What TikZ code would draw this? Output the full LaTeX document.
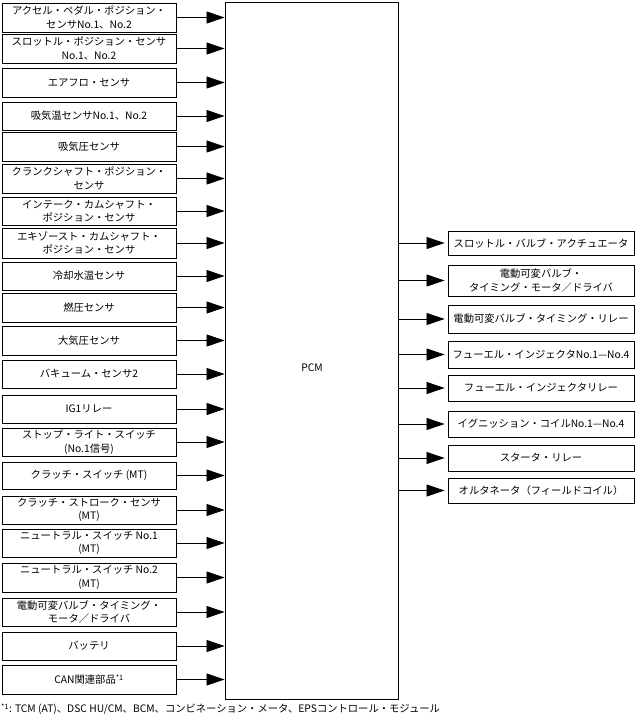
\documentclass[tikz,border=0pt]{standalone}
\usepackage{fontspec}
\setmainfont{Noto Sans CJK JP}
\usetikzlibrary{arrows.meta}
\begin{document}
\begin{tikzpicture}[x=1pt,y=-1pt,
  box/.style={draw, line width=0.9pt, align=center, inner sep=0pt, font=\fontsize{10.3}{13.5}\selectfont},
  lbox/.style={box, minimum width=174pt},
  rbox/.style={box, minimum width=186pt},
  arr/.style={line width=0.8pt, -{Triangle[length=18pt,width=12pt]}},
  txt/.style={inner sep=0pt, font=\fontsize{10.3}{13.5}\selectfont}]
\useasboundingbox (0,0) rectangle (637,718);
% PCM
\node[draw, line width=0.9pt, minimum width=173pt, minimum height=697pt, inner sep=0pt] (pcm) at (311.5,350.5) {};
\node[txt] (pcmlabel) at (312,368) {PCM};
% left column
\node[lbox, minimum height=29pt] (l1) at (89,17.5) {アクセル・ペダル・ポジション・\\センサNo.1、No.2};
\node[lbox, minimum height=29pt] (l2) at (89,48.5) {スロットル・ポジション・センサ\\No.1、No.2};
\node[lbox, minimum height=29pt] (l3) at (89,82.5) {エアフロ・センサ};
\node[lbox, minimum height=28pt] (l4) at (89,116) {吸気温センサNo.1、No.2};
\node[lbox, minimum height=29pt] (l5) at (89,146.5) {吸気圧センサ};
\node[lbox, minimum height=29pt] (l6) at (89,178.5) {クランクシャフト・ポジション・\\センサ};
\node[lbox, minimum height=28pt] (l7) at (89,211) {インテーク・カムシャフト・\\ポジション・センサ};
\node[lbox, minimum height=30pt] (l8) at (89,243) {エキゾースト・カムシャフト・\\ポジション・センサ};
\node[lbox, minimum height=28pt] (l9) at (89,276) {冷却水温センサ};
\node[lbox, minimum height=29pt] (l10) at (89,307.5) {燃圧センサ};
\node[lbox, minimum height=29pt] (l11) at (89,340.5) {大気圧センサ};
\node[lbox, minimum height=28pt] (l12) at (89,374) {バキューム・センサ2};
\node[lbox, minimum height=28pt] (l13) at (89,409) {IG1リレー};
\node[lbox, minimum height=28pt] (l14) at (89,442) {ストップ・ライト・スイッチ\\(No.1信号)};
\node[lbox, minimum height=27pt] (l15) at (89,475.5) {クラッチ・スイッチ (MT)};
\node[lbox, minimum height=28pt] (l16) at (89,510) {クラッチ・ストローク・センサ\\(MT)};
\node[lbox, minimum height=28pt] (l17) at (89,543) {ニュートラル・スイッチ No.1\\(MT)};
\node[lbox, minimum height=29pt] (l18) at (89,577.5) {ニュートラル・スイッチ No.2\\(MT)};
\node[lbox, minimum height=28pt] (l19) at (89,612) {電動可変バルブ・タイミング・\\モータ／ドライバ};
\node[lbox, minimum height=28pt] (l20) at (89,646) {バッテリ};
\node[lbox, minimum height=29pt] (l21) at (89,679.5) {CAN関連部品\textsuperscript{*1}};
\foreach \i in {1,...,21} {
  \draw[arr] (l\i.east) -- (l\i.east -| pcm.west);
}
% right column
\node[rbox, minimum height=24pt] (r1) at (541,243) {スロットル・バルブ・アクチュエータ};
\node[rbox, minimum height=31pt] (r2) at (541,280.5) {電動可変バルブ・\\タイミング・モータ／ドライバ};
\node[rbox, minimum height=28pt] (r3) at (541,319) {電動可変バルブ・タイミング・リレー};
\node[rbox, minimum height=27pt] (r4) at (541,354.5) {フューエル・インジェクタNo.1—No.4};
\node[rbox, minimum height=26pt] (r5) at (541,388) {フューエル・インジェクタリレー};
\node[rbox, minimum height=26pt] (r6) at (541,424) {イグニッション・コイルNo.1—No.4};
\node[rbox, minimum height=26pt] (r7) at (541,458) {スタータ・リレー};
\node[rbox, minimum height=25pt] (r8) at (541,490.5) {オルタネータ（フィールドコイル）};
\foreach \i in {1,...,8} {
  \draw[arr] (r\i.west -| pcm.east) -- ([xshift=-3pt]r\i.west);
}
% footnote
\node[txt, anchor=west] (note) at (1,709) {\textsuperscript{*1}: TCM (AT)、DSC HU/CM、BCM、コンビネーション・メータ、EPSコントロール・モジュール};
\end{tikzpicture}
\end{document}
